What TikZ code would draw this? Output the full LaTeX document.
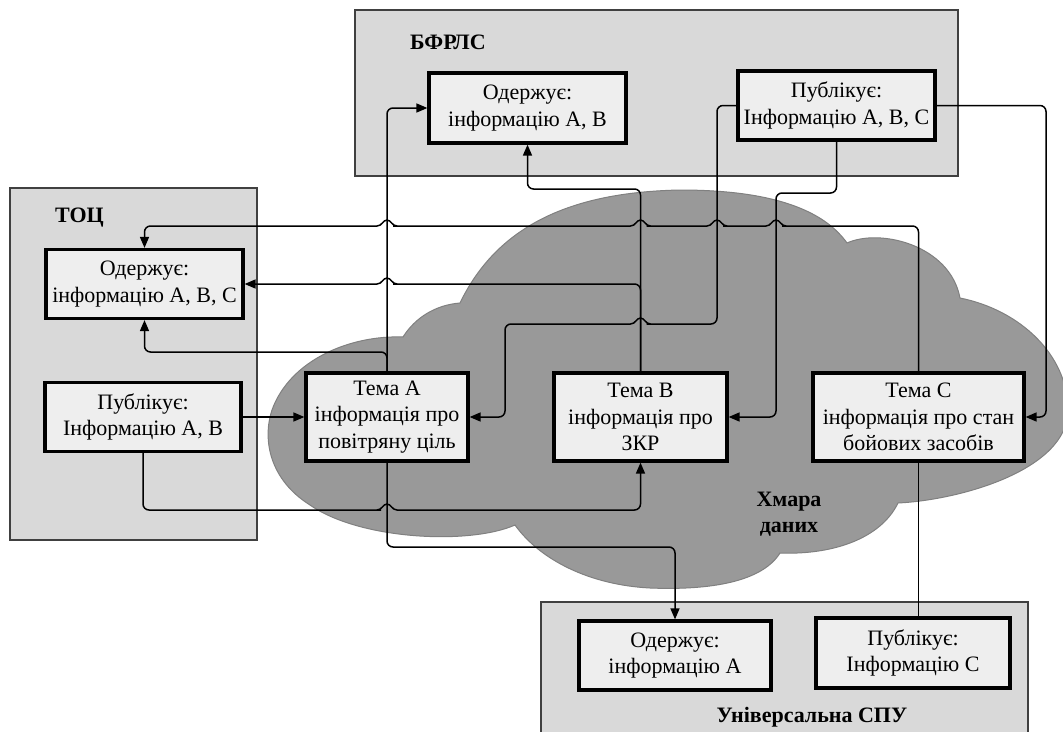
\documentclass[tikz,border=0pt]{standalone}
\usepackage{fontspec}
\setmainfont{Liberation Serif}
\usetikzlibrary{arrows.meta}

\definecolor{panelfill}{HTML}{D9D9D9}
\definecolor{panelline}{HTML}{404040}
\definecolor{boxfill}{HTML}{EEEEEE}
\definecolor{cloudfill}{HTML}{999999}
\definecolor{cloudline}{HTML}{808080}

% small hump where a horizontal connector passes over a vertical one
\newcommand\jumpleft[2]{-- ({#1+12},#2) [sharp corners] -- ({#1+10},#2)
  .. controls ({#1+5},#2) and ({#1+4},{#2-6}) .. (#1,{#2-6})
  .. controls ({#1-4},{#2-6}) and ({#1-5},#2) .. ({#1-10},#2)
  -- ({#1-12},#2) [rounded corners=6pt]}
\newcommand\jumpright[2]{-- ({#1-12},#2) [sharp corners] -- ({#1-10},#2)
  .. controls ({#1-5},#2) and ({#1-4},{#2-6}) .. (#1,{#2-6})
  .. controls ({#1+4},{#2-6}) and ({#1+5},#2) .. ({#1+10},#2)
  -- ({#1+12},#2) [rounded corners=6pt]}

\tikzset{
  panel/.style={fill=panelfill, draw=panelline, line width=1.3pt},
  infobox/.style={draw=black, line width=3.2pt, fill=boxfill, align=center,
    inner sep=0pt, font=\fontsize{22}{26.5}\selectfont},
  title/.style={font=\fontsize{22}{26.5}\selectfont\bfseries, align=center, inner sep=0pt},
  conn/.style={draw=black, line width=1.5pt, rounded corners=6pt},
  arr/.style={conn, -{Triangle[length=11pt,width=9pt]}},
}

\begin{document}
\begin{tikzpicture}[x=1pt,y=-1pt]
\clip (0,0) rectangle (1063,731);
\fill[white] (0,0) rectangle (1063,731);

% system panels
\path[panel] (355,10) rectangle (958,176);
\path[panel] (10,188) rectangle (257,540);
\path[panel] (541,602) rectangle (1028,740);

% data cloud
\path[fill=cloudfill, draw=cloudline, line width=1pt]
  (403,337) .. controls (415,318) and (435,305) .. (460,303)
  .. controls (500,220) and (580,192) .. (680,190)
  .. controls (760,190) and (820,205) .. (847,243)
  .. controls (880,228) and (950,245) .. (960,298)
  .. controls (1020,310) and (1068,355) .. (1068,410)
  .. controls (1068,470) and (960,500) .. (898,503)
  .. controls (880,540) and (830,555) .. (780,553)
  .. controls (760,585) and (700,590) .. (650,588)
  .. controls (590,585) and (540,560) .. (515,525)
  .. controls (470,545) and (360,540) .. (310,505)
  .. controls (270,480) and (262,440) .. (272,410)
  .. controls (290,360) and (350,335) .. (403,337) -- cycle;

% boxes
\node[infobox, minimum width=197pt, minimum height=70pt] (bR) at (527.5,108) {Одержує:\\інформацію А, В};
\node[infobox, minimum width=197pt, minimum height=69pt] (bP) at (836.5,105.5) {Публікує:\\Інформацію А, В, С};
\node[infobox, minimum width=197pt, minimum height=69pt] (tR) at (144.5,284) {Одержує:\\інформацію А, В, С};
\node[infobox, minimum width=196pt, minimum height=69pt] (tP) at (143,417) {Публікує:\\Інформацію А, В};
\node[infobox, minimum width=162pt, minimum height=88pt] (A) at (387,417) {Тема А\\інформація про\\повітряну ціль};
\node[infobox, minimum width=173pt, minimum height=88pt] (B) at (640.5,417) {Тема В\\інформація про\\ЗКР};
\node[infobox, minimum width=211pt, minimum height=88pt] (C) at (918.5,417) {Тема С\\інформація про стан\\бойових засобів};
\node[infobox, minimum width=192pt, minimum height=69pt] (sR) at (675,655.5) {Одержує:\\інформацію А};
\node[infobox, minimum width=194pt, minimum height=70pt] (sP) at (913,653) {Публікує:\\Інформацію С};

% titles
\node[title, anchor=west] (lblB) at (410,42) {БФРЛС};
\node[title, anchor=west] (lblT) at (55,218) {ТОЦ};
\node[title] (lblC) at (789,514) {Хмара\\даних};
\node[title] (lblS) at (812,717) {Універсальна СПУ};

% connectors
\draw[arr] (tP.east) -- (A.west);
\draw[arr] (tP.south) -- (143,510) \jumpright{387}{510} -| (B.south);
\draw[arr] (A.north) -- (387,352) -| (tR.south);
\draw[arr] (A.north) |- (bR.west);
\draw[arr] (A.south) -- (387,547) -| (sR.north);
\draw[arr] (B.north) -- (640.5,189) -| (bR.south);
\draw[arr] (B.north) -- (640.5,284) \jumpleft{387}{284} -- (tR.east);
\draw[arr] (C.north) -- (918.5,226) \jumpleft{776}{226} \jumpleft{717}{226} \jumpleft{640.5}{226} \jumpleft{387}{226} -| (tR.north);
\draw[arr] (bP.west) -| (717,324) \jumpleft{640.5}{324} -- (505,324) |- (A.east);
\draw[arr] (bP.south) -- (836.5,193) -- (776,193) |- (B.east);
\draw[arr] (bP.east) -- (1046,105.5) |- (C.east);
\draw[conn] (C.south) -- (C.south |- sP.north);
\end{tikzpicture}
\end{document}
